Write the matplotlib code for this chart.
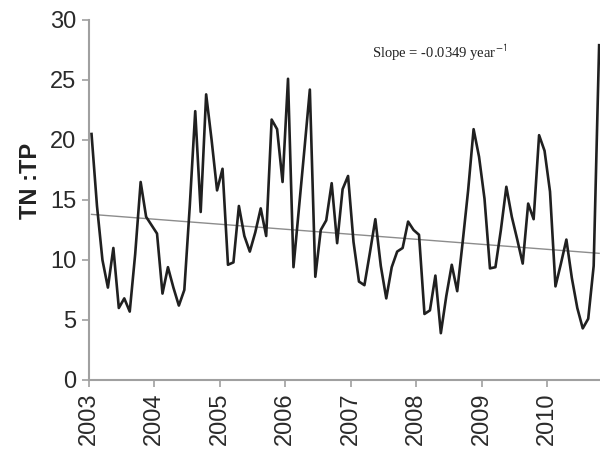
import numpy as np
import matplotlib
matplotlib.use("Agg")
import matplotlib.pyplot as plt

plt.rcParams["mathtext.fontset"] = "stix"

# Monthly TN:TP ratio, Jan 2003 onward
tn_tp = [20.5, 14.5, 10.0, 7.7, 11.0, 6.0, 6.8, 5.7, 10.5, 16.5, 13.6, 12.9,
         12.2, 7.2, 9.4, 7.7, 6.2, 7.5, 14.5, 22.4, 14.0, 23.8, 20.0, 15.8,
         17.6, 9.6, 9.8, 14.5, 12.0, 10.7, 12.3, 14.3, 12.0, 21.7, 20.9, 16.5,
         25.1, 9.4, 14.3, 19.2, 24.2, 8.6, 12.5, 13.3, 16.4, 11.4, 15.9, 17.0,
         11.5, 8.2, 7.9, 10.6, 13.4, 9.5, 6.8, 9.4, 10.7, 11.0, 13.2, 12.5,
         12.1, 5.5, 5.8, 8.7, 3.9, 7.0, 9.6, 7.4, 11.5, 15.8, 20.9, 18.6,
         15.1, 9.3, 9.4, 12.5, 16.1, 13.6, 11.7, 9.7, 14.7, 13.4, 20.4, 19.1,
         15.7, 7.8, 9.7, 11.7, 8.5, 6.0, 4.3, 5.1, 9.5, 27.9]
start_year = 2003
year_ticks = [2003, 2004, 2005, 2006, 2007, 2008, 2009, 2010]
y_ticks = [0, 5, 10, 15, 20, 25, 30]
trend_start = 13.8        # trend value at first month
trend_slope = -0.0349     # per month
slope_label = "Slope = -0.0349 year$^{\\mathsf{-1}}$"

months = np.arange(len(tn_tp))
x = start_year + (months + 0.5) / 12.0
trend = trend_start + trend_slope * months

fig = plt.figure(figsize=(6, 4.5), dpi=100)
ax = fig.add_axes([0.148, 0.1556, 0.852, 0.80])

ax.plot(x, trend, color="#8c8c8c", lw=1.0, zorder=2)
ax.plot(x, tn_tp, color="#202020", lw=1.9, solid_joinstyle="round", zorder=3)

ax.set_xlim(2003, 2010.805)
ax.set_ylim(0, 30)
ax.set_xticks(year_ticks)
ax.set_xticklabels([str(y) for y in year_ticks], rotation=90,
                   fontsize=17, color="#2a2a2a", family="Liberation Sans")
ax.set_yticks(y_ticks)
ax.set_yticklabels([str(v) for v in y_ticks], fontsize=17, color="#2a2a2a",
                   family="Liberation Sans")

for side in ("top", "right"):
    ax.spines[side].set_visible(False)
for side in ("left", "bottom"):
    ax.spines[side].set_color("#a0a0a0")
    ax.spines[side].set_linewidth(1.5)
ax.tick_params(axis="both", direction="out", length=5, width=1.2, color="#a0a0a0", pad=4)

ax.set_ylabel("TN :TP", fontsize=17, fontweight="bold", color="#222222",
              family="Liberation Sans")
ax.yaxis.set_label_coords(-0.092, 0.553)

ax.text(2007.32, 27.3, slope_label, fontsize=10.5, family="Liberation Serif",
        color="#222222", va="center", ha="left")

fig.savefig("out.png", dpi=100)
